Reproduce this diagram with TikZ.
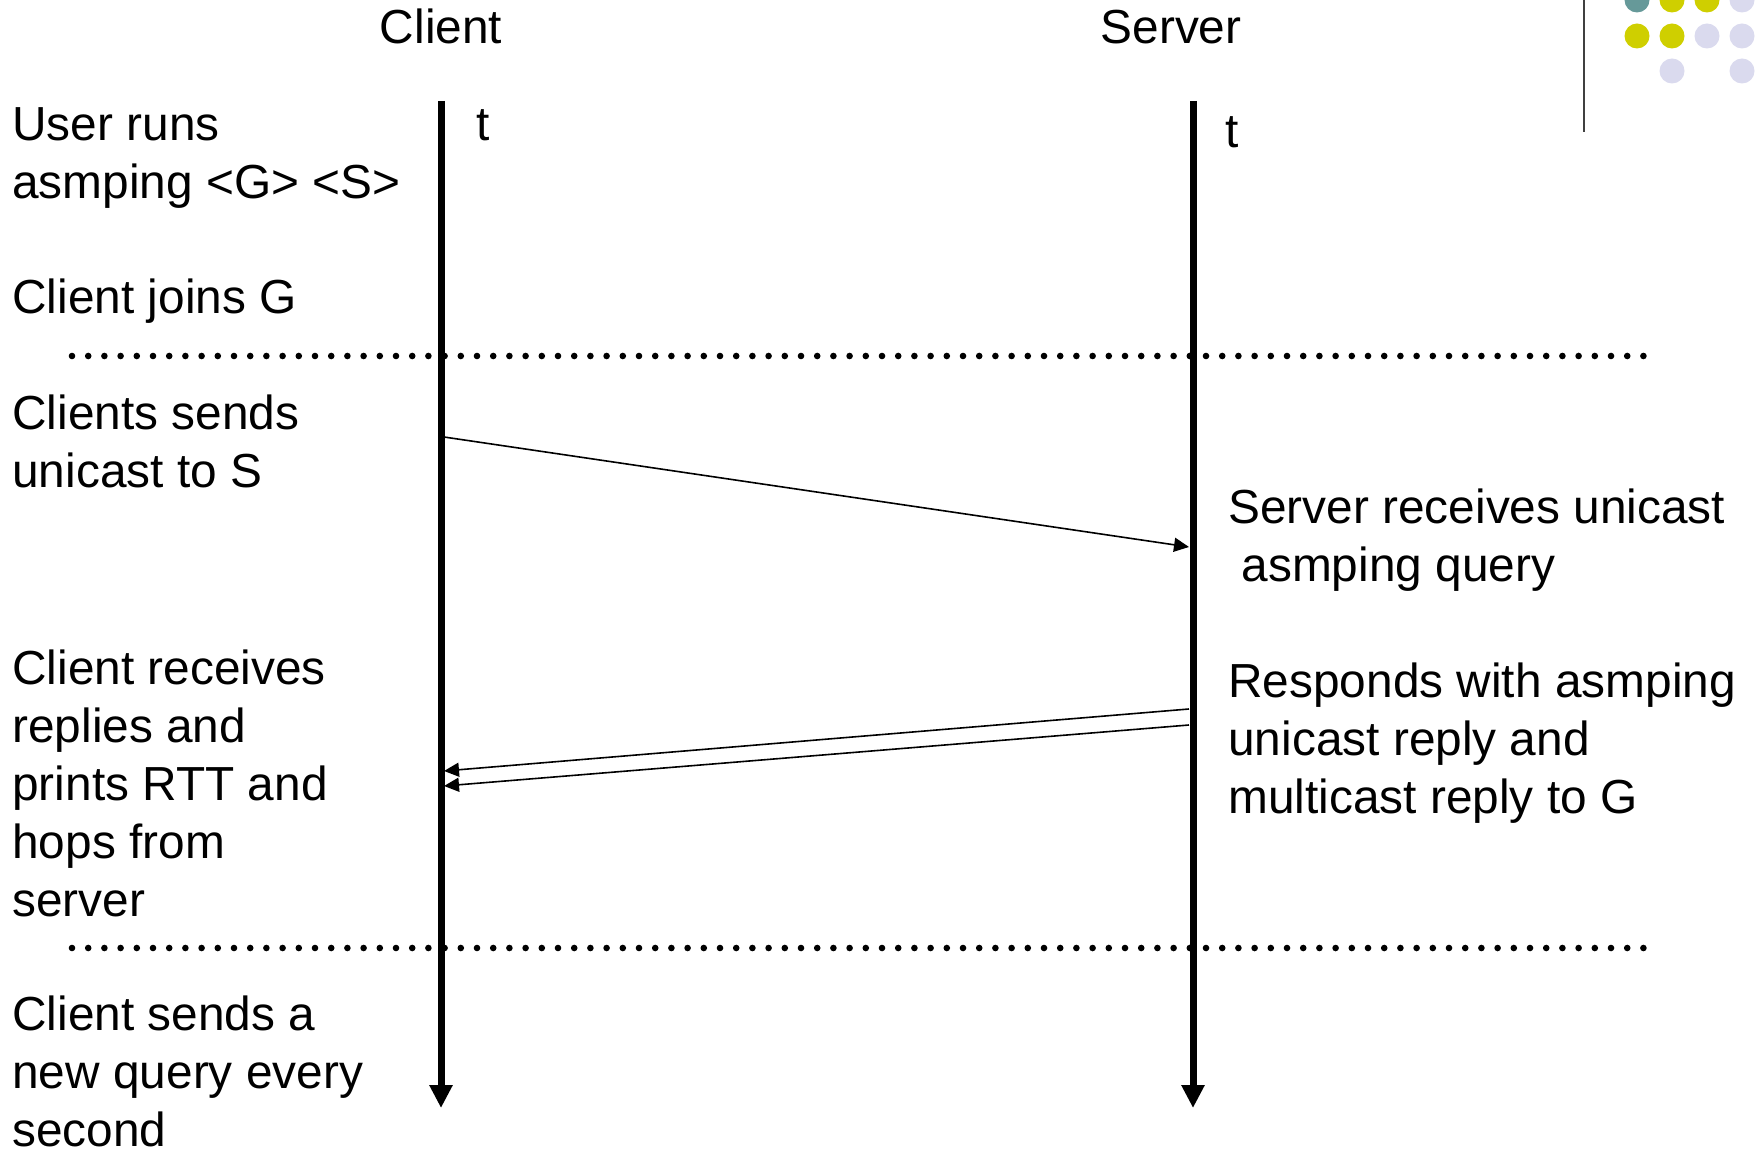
\documentclass[tikz,border=0pt]{standalone}
\usepackage{fontspec}
\setmainfont{Liberation Sans}
\usetikzlibrary{arrows.meta}

\definecolor{dotteal}{HTML}{669999}
\definecolor{dotolive}{HTML}{CFCF00}
\definecolor{dotlilac}{HTML}{DADAEE}

\tikzset{
  note/.style={font=\fontsize{23.9}{29}\selectfont, inner sep=0pt, align=left},
  timeline/.style={line width=3.5pt, -{Triangle[length=11.5pt,width=11pt]}},
  msg/.style={line width=0.8pt, -{Triangle[length=7.5pt,width=7pt]}},
  divider/.style={line width=3.3pt, line cap=round, dash pattern=on 0pt off 8.1pt}
}

\begin{document}
\begin{tikzpicture}[x=0.5pt, y=-0.5pt]
    \useasboundingbox (0,0) rectangle (1755,1149);

    % Corner decoration
    \draw[line width=1pt, black!75] (1584,0) -- (1584,132);
    \foreach \cx/\cy/\col in {1637/0/dotteal, 1672/0/dotolive, 1707/0/dotolive, 1742/0/dotlilac,
                             1637/36/dotolive, 1672/36/dotolive, 1707/36/dotlilac, 1742/36/dotlilac,
                             1672/71/dotlilac, 1742/71/dotlilac} {
        \fill[\col] (\cx,\cy) circle (6.25pt);
    }

    % Phase separators
    \draw[divider] (72,356) -- (1646,356);
    \draw[divider] (72,948) -- (1646,948);

    % Time axes
    \coordinate (cTop) at (441,101);
    \coordinate (cBot) at (441,1108);
    \coordinate (sTop) at (1193,101);
    \coordinate (sBot) at (1193,1108);
    \draw[timeline] (cTop) -- (cBot);
    \draw[timeline] (sTop) -- (sBot);

    \node[note, anchor=base] (clientHead) at (441,44) {Client};
    \node[note, anchor=base] (serverHead) at (1171,44) {Server};
    \node[note, anchor=base west] (clientT) at (476,141) {t};
    \node[note, anchor=base west] (serverT) at (1225,148) {t};

    % Messages
    \coordinate (qStart) at (444,437);
    \coordinate (qEnd) at (1189,547);
    \coordinate (rStartA) at (1189,709);
    \coordinate (rEndA) at (444,771);
    \coordinate (rStartB) at (1189,725);
    \coordinate (rEndB) at (444,786);
    \draw[msg] (qStart) -- (qEnd);
    \draw[msg] (rStartA) -- (rEndA);
    \draw[msg] (rStartB) -- (rEndB);

    % Client side steps
    \node[note, anchor=north west] (userRuns) at (12,107) {User runs\\asmping <G> <S>};
    \node[note, anchor=north west] (clientJoins) at (12,278) {Client joins G};
    \node[note, anchor=north west] (clientSends) at (12,394) {Clients sends\\unicast to S};
    \node[note, anchor=north west] (clientRecv) at (12,649) {Client receives\\replies and\\prints RTT and\\hops from\\server};
    \node[note, anchor=north west] (newQuery) at (12,995) {Client sends a\\new query every\\second};

    % Server side steps
    \node[note, anchor=north west] (serverRecv) at (1228,488) {Server receives unicast\\\ asmping query};
    \node[note, anchor=north west] (serverResp) at (1228,662) {Responds with asmping\\unicast reply and\\multicast reply to G};

\end{tikzpicture}
\end{document}
